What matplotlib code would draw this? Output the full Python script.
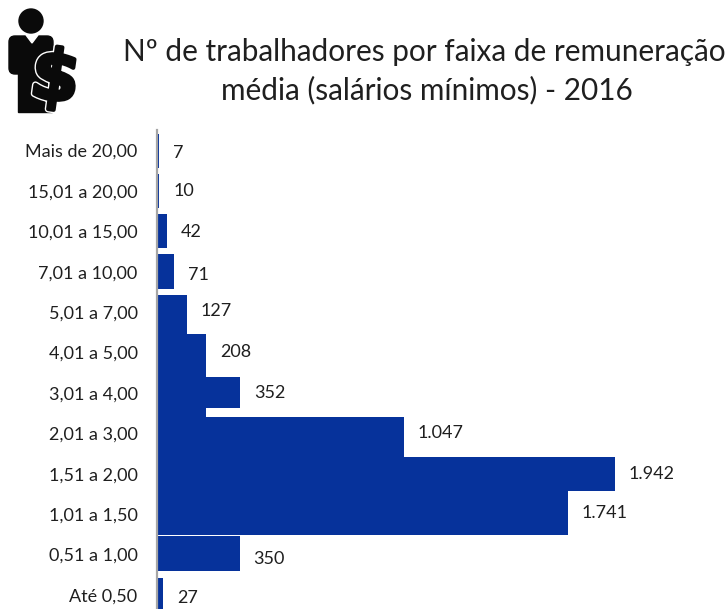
import matplotlib
matplotlib.use("Agg")
import matplotlib.pyplot as plt
import matplotlib.patheffects as pe
from matplotlib.patches import Circle, Polygon, FancyBboxPatch

W, H = 728, 609
categories = ["Mais de 20,00", "15,01 a 20,00", "10,01 a 15,00", "7,01 a 10,00", "5,01 a 7,00",
              "4,01 a 5,00", "3,01 a 4,00", "2,01 a 3,00", "1,51 a 2,00", "1,01 a 1,50",
              "0,51 a 1,00", "Até 0,50"]
values = [7, 10, 42, 71, 127, 208, 352, 1047, 1942, 1741, 350, 27]
value_labels = ["7", "10", "42", "71", "127", "208", "352", "1.047", "1.942", "1.741", "350", "27"]

# drawn bar extents differ slightly per row in the source (pixels)
bar_h_px = [34, 34, 34, 35, 39, 43, 31, 40, 34, 44, 35, 38]
bar_off_px = [0, 0, 0, 0, 2.4, 3, -0.4, 3.7, 0.3, -1, -1, 2]
label_nudge_px = [2, 0, 1, 3, -1, -1, 0, 0, 0, -1, 5, 3]
tick_nudge_px = [0, 0, 0, 0, -2, -1, -1, 0, 0, 0, 0, 0]

FONT = "Lato"
plt.rcParams["font.family"] = [FONT, "DejaVu Sans"]
BLUE = "#06329b"
TXT = "#1f1f1f"
STEP = 40.4

fig = plt.figure(figsize=(W/100, H/100), dpi=100)
bg = fig.add_axes([0, 0, 1, 1])
bg.set_xlim(0, W); bg.set_ylim(H, 0); bg.axis("off")

# plot area: 157..728 px in x, 130..609 px in y
ax = fig.add_axes([157/W, 0, (W-157)/W, (H-130)/H])
pos = list(range(len(values)))
ax.barh([p + o/STEP for p, o in zip(pos, bar_off_px)], values,
        height=[h/STEP for h in bar_h_px], color=BLUE, zorder=2)
# narrow joining strip seen between rows 3,01 a 4,00 and 2,01 a 3,00
ax.barh(6.55, values[5], height=0.35, color=BLUE, zorder=2)
ax.set_ylim((609-150.5)/STEP, (130-150.5)/STEP)
ax.set_xlim(0, (W-157)/0.2358)
for s in ("top", "right", "bottom"):
    ax.spines[s].set_visible(False)
ax.spines["left"].set_color("#a6a6a6")
ax.spines["left"].set_linewidth(1.6)
ax.spines["left"].set_zorder(3)
ax.xaxis.set_visible(False)
ax.set_yticks(pos, categories)
ax.tick_params(axis="y", length=0, pad=14, labelsize=13, labelcolor=TXT)
for p, v, t, n in zip(pos, values, value_labels, label_nudge_px):
    ax.annotate(t, (v, p), xytext=(14, -n), textcoords="offset pixels", va="center",
                ha="left", fontsize=13, color=TXT, zorder=4, annotation_clip=False)

fig.text(424.5/W, 1-52/H, "Nº de trabalhadores por faixa de remuneração", ha="center", va="center",
         fontsize=21.4, color=TXT)
fig.text(427/W, 1-90/H, "média (salários mínimos) - 2016", ha="center", va="center",
         fontsize=21.4, color=TXT)

# icon: person with a dollar sign
k = "#0a0a0a"
bg.add_patch(Circle((31, 21), 12, color=k))
bg.add_patch(FancyBboxPatch((9, 36), 44, 38, boxstyle="round,pad=0,rounding_size=6", color=k))
bg.add_patch(Polygon([[26, 35], [38, 35], [32, 43]], color="white"))
bg.add_patch(Polygon([[18, 70], [52, 70], [52, 112], [18, 112]], color=k))
bg.text(55, 80, "$", fontsize=50, fontweight="bold", family="DejaVu Sans", color=k,
        ha="center", va="center", rotation=-8,
        path_effects=[pe.withStroke(linewidth=5, foreground="white"),
                      pe.withStroke(linewidth=3, foreground=k)])

fig.savefig("out.png", dpi=100)
